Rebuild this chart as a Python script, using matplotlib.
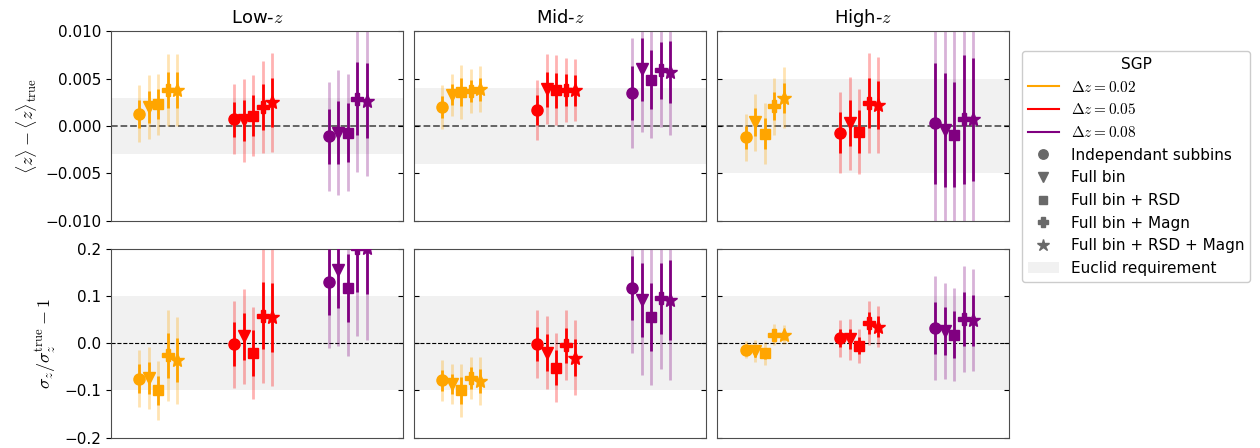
import numpy as np
import matplotlib
matplotlib.use("Agg")
import matplotlib.pyplot as plt
from matplotlib.lines import Line2D, TICKLEFT
from matplotlib.patches import Patch
from matplotlib.ticker import FuncFormatter

plt.rcParams['mathtext.fontset'] = 'cm'

# one row per delta z (0.02, 0.05, 0.08), one column per method
methods = ['Independant subbins', 'Full bin', 'Full bin + RSD',
           'Full bin + Magn', 'Full bin + RSD + Magn']
markers = ['o', 'v', 's', 'P', '*']
msizes = [8, 8.5, 7, 8.5, 10.5]
dz_labels = [r'$\Delta z = 0.02$', r'$\Delta z = 0.05$', r'$\Delta z = 0.08$']
colors = ['orange', 'red', 'purple']
bins = ['Low', 'Mid', 'High']

# mean redshift shift, value and 1-sigma error
mean_low = [[0.0013, 0.0020, 0.0023, 0.0038, 0.0038],
            [0.0007, 0.0006, 0.0011, 0.0020, 0.0025],
            [-0.0011, -0.0007, -0.0007, 0.0029, 0.0027]]
mean_low_err = [[0.0015, 0.0017, 0.0016, 0.0019, 0.0019],
                [0.00185, 0.0022, 0.00215, 0.00245, 0.0026],
                [0.0029, 0.0033, 0.0031, 0.0039, 0.0040]]
mean_mid = [[0.0020, 0.0033, 0.0036, 0.0037, 0.0039],
            [0.0017, 0.0039, 0.0038, 0.0038, 0.0038],
            [0.0035, 0.0060, 0.0049, 0.0059, 0.0057]]
mean_mid_err = [[0.00115, 0.0011, 0.00145, 0.00115, 0.0012],
                [0.0016, 0.00185, 0.00185, 0.0017, 0.00165],
                [0.0029, 0.0033, 0.0031, 0.0030, 0.0033]]
mean_high = [[-0.0012, 0.0004, -0.0008, 0.0021, 0.0030],
             [-0.0007, 0.0003, -0.0006, 0.0024, 0.0022],
             [0.0003, -0.0004, -0.0009, 0.0007, 0.0007]]
mean_high_err = [[0.00125, 0.0015, 0.0016, 0.0015, 0.0016],
                 [0.00215, 0.00245, 0.00225, 0.00265, 0.00255],
                 [0.0064, 0.0060, 0.0056, 0.0068, 0.0065]]

# width ratio sigma_z / sigma_z^true - 1, value and 1-sigma error
width_low = [[-0.075, -0.074, -0.100, -0.026, -0.036],
             [-0.002, 0.014, -0.021, 0.058, 0.055],
             [0.130, 0.154, 0.116, 0.202, 0.202]]
width_low_err = [[0.030, 0.033, 0.031, 0.048, 0.046],
                 [0.046, 0.050, 0.049, 0.071, 0.073],
                 [0.070, 0.080, 0.072, 0.094, 0.098]]
width_mid = [[-0.079, -0.086, -0.100, -0.074, -0.080],
             [-0.002, -0.020, -0.052, -0.005, -0.031],
             [0.116, 0.091, 0.055, 0.095, 0.091]]
width_mid_err = [[0.022, 0.021, 0.028, 0.0225, 0.0255],
                 [0.036, 0.039, 0.0365, 0.037, 0.0395],
                 [0.068, 0.079, 0.072, 0.075, 0.085]]
width_high = [[-0.014, -0.017, -0.022, 0.018, 0.018],
              [0.0105, 0.008, -0.006, 0.042, 0.035],
              [0.032, 0.025, 0.018, 0.051, 0.048]]
width_high_err = [[0.009, 0.0115, 0.012, 0.011, 0.0105],
                  [0.0195, 0.0215, 0.018, 0.0235, 0.0215],
                  [0.055, 0.051, 0.0495, 0.0565, 0.054]]

mean_vals = [mean_low, mean_mid, mean_high]
mean_errs = [mean_low_err, mean_mid_err, mean_high_err]
width_vals = [width_low, width_mid, width_high]
width_errs = [width_low_err, width_mid_err, width_high_err]

# Euclid requirement half-widths
mean_req = [0.003, 0.004, 0.005]
width_req = [0.1, 0.1, 0.1]

fig, axes = plt.subplots(2, 3, figsize=(12.6, 4.48), dpi=100, sharey='row')
fig.subplots_adjust(left=0.088, right=0.801, top=0.9297, bottom=0.0232,
                    wspace=0.038, hspace=0.148)


def draw_panel(ax, vals, errs, req, zero_style):
    ax.axhspan(-req, req, color='0.945', lw=0, zorder=0)
    ax.axhline(0, zorder=1, **zero_style)
    for i, (row, row_err) in enumerate(zip(vals, errs)):
        for j, (v, e) in enumerate(zip(row, row_err)):
            x = i + (j - 2) * 0.1
            ax.plot([x, x], [v - 2 * e, v + 2 * e], color=colors[i],
                    lw=2, alpha=0.3, solid_capstyle='butt', zorder=2)
            ax.plot([x, x], [v - e, v + e], color=colors[i],
                    lw=2, solid_capstyle='butt', zorder=3)
            ax.plot(x, v, marker=markers[j], color=colors[i], ms=msizes[j],
                    ls='none', zorder=4)
    ax.set_xlim(-0.5, 2.58)
    ax.set_xticks([])
    for s in ax.spines.values():
        s.set_color('0.3')


def minus_fmt(fmt):
    return FuncFormatter(lambda v, pos: (fmt % v).replace('-', '\u2212'))


for k in range(3):
    draw_panel(axes[0, k], mean_vals[k], mean_errs[k], mean_req[k],
               dict(color='0.35', ls='--', lw=1.3))
    draw_panel(axes[1, k], width_vals[k], width_errs[k], width_req[k],
               dict(color='k', ls='--', lw=0.8))
    axes[0, k].set_title(bins[k] + r'-$z$', fontsize=13)
    for r in range(2):
        axes[r, k].tick_params(axis='y', direction='in', right=True,
                               labelsize=11)

axes[0, 0].set_ylim(-0.010, 0.010)
axes[0, 0].set_yticks([-0.010, -0.005, 0.0, 0.005, 0.010])
axes[0, 0].yaxis.set_major_formatter(minus_fmt('%.3f'))
axes[1, 0].set_ylim(-0.2, 0.2)
axes[1, 0].set_yticks([-0.2, -0.1, 0.0, 0.1, 0.2])
axes[1, 0].yaxis.set_major_formatter(minus_fmt('%.1f'))

# left column: outer ticks on the labelled side
for r in range(2):
    ax = axes[r, 0]
    ax.tick_params(axis='y', pad=3.5 + 3.5)
    for t in ax.yaxis.get_major_ticks():
        t.tick1line.set_marker(TICKLEFT)

axes[0, 0].set_ylabel(r'$\langle z \rangle - \langle z \rangle_{\rm true}$',
                      fontsize=13)
axes[1, 0].set_ylabel(r'$\sigma_z / \sigma_z^{\rm true} - 1$', fontsize=13)

handles = [Line2D([], [], color=c, lw=1.5) for c in colors]
handles += [Line2D([], [], color='dimgray', marker=m, ls='none',
                   ms=s * 0.85) for m, s in zip(markers, msizes)]
handles.append(Patch(facecolor='0.945', edgecolor='none'))
labels = dz_labels + methods + ['Euclid requirement']
fig.legend(handles, labels, title='SGP', loc='upper left',
           bbox_to_anchor=(0.811, 0.886), borderaxespad=0,
           fontsize=11, title_fontsize=11,
           framealpha=1, edgecolor='0.8')

fig.savefig('out.png', dpi=100)
